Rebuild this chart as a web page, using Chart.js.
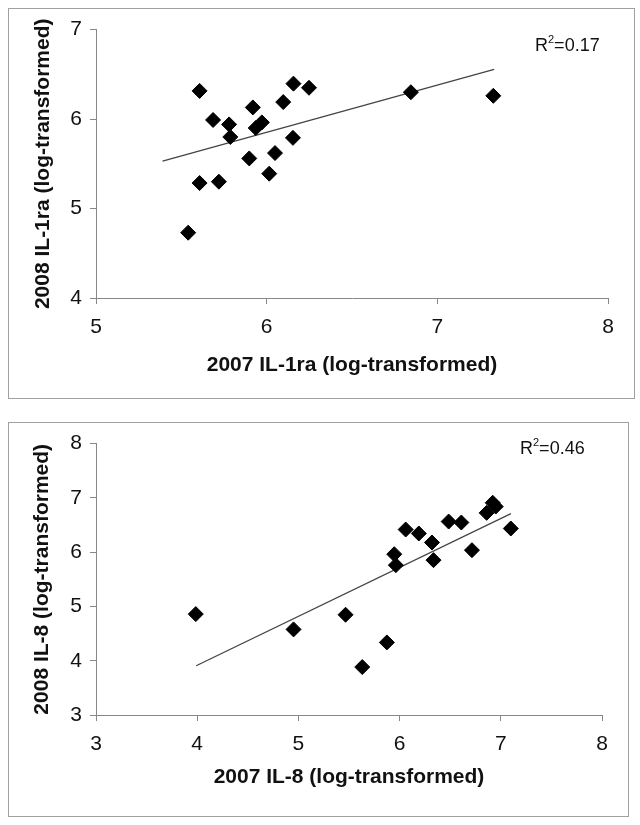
<!DOCTYPE html>
<html><head><meta charset="utf-8">
<script src="https://cdn.jsdelivr.net/npm/chart.js@4.4.0/dist/chart.umd.min.js"></script>
<style>
html,body{margin:0;padding:0;background:#fff;width:640px;height:825px;overflow:hidden}
.box{position:absolute;border:1px solid #a0a0a0;background:#fff}
#b1{left:8px;top:8px;width:625px;height:389px}
#b2{left:8px;top:422px;width:619px;height:393px}
canvas{display:block}
</style></head><body>
<div class="box" id="b1"><canvas id="c1" width="625" height="389"></canvas></div>
<div class="box" id="b2"><canvas id="c2" width="619" height="393"></canvas></div>
<script>
// IL-1ra (2007 vs 2008)
const il1raX = [5.54,5.607,5.607,5.686,5.72,5.78,5.787,5.898,5.919,5.936,5.972,6.015,6.049,6.097,6.154,6.157,6.248,6.845,7.328];
const il1raY = [4.73,5.285,6.315,5.99,5.30,5.94,5.80,5.56,6.13,5.90,5.963,5.39,5.62,6.19,5.79,6.396,6.35,6.30,6.26];
const il1raTrendX = [5.39,7.333];
const il1raTrendY = [5.53,6.556];
const il1raR2 = '0.17';
const il1raTicksX = [5,6,7,8];
const il1raTicksY = [4,5,6,7];
// IL-8 (2007 vs 2008)
const il8X = [3.986,4.952,5.466,5.631,5.874,5.947,5.963,6.06,6.19,6.32,6.335,6.485,6.61,6.715,6.86,6.95,6.92,7.099];
const il8Y = [4.859,4.577,4.847,3.883,4.337,5.963,5.761,6.417,6.344,6.178,5.853,6.564,6.546,6.037,6.724,6.84,6.91,6.436];
const il8TrendX = [3.99,7.10];
const il8TrendY = [3.908,6.71];
const il8R2 = '0.46';
const il8TicksX = [3,4,5,6,7,8];
const il8TicksY = [3,4,5,6,7,8];

const FONT = '"Liberation Sans", Arial, sans-serif';

function r2Plugin(val, x, y){
  return {id:'r2', afterDraw(chart){
    const ctx = chart.ctx; ctx.save();
    ctx.fillStyle = '#111'; ctx.textBaseline = 'alphabetic';
    ctx.font = '18px ' + FONT;
    ctx.fillText('R', x, y);
    let w = ctx.measureText('R').width;
    ctx.font = '11px ' + FONT;
    ctx.fillText('2', x + w, y - 8);
    let w2 = ctx.measureText('2').width;
    ctx.font = '18px ' + FONT;
    ctx.fillText('=' + val, x + w + w2, y);
    ctx.restore();
  }};
}

function makeChart(id, xs, ys, tx, ty, ticksX, ticksY, xTitle, yTitle, cfg){
  const pts = xs.map((v,i)=>({x:v, y:ys[i]}));
  const trend = tx.map((v,i)=>({x:v, y:ty[i]}));
  new Chart(document.getElementById(id), {
    type:'scatter',
    data:{datasets:[
      {type:'line', data:trend, borderColor:'#444', borderWidth:1.3, pointRadius:0, fill:false, order:2},
      {data:pts, pointStyle:'rectRot', pointRadius:7.5, backgroundColor:'#000', borderColor:'#000', borderWidth:1, order:1}
    ]},
    options:{
      responsive:false, animation:false, events:[],
      layout:{padding:{left:0, top:cfg.padTop, right:cfg.padRight, bottom:0}},
      plugins:{legend:{display:false}, tooltip:{enabled:false}},
      scales:{
        x:{type:'linear', min:ticksX[0], max:ticksX[ticksX.length-1],
          afterBuildTicks(s){ s.ticks = ticksX.map(v=>({value:v})); },
          afterFit(s){ s.height = cfg.xh; },
          grid:{display:true, drawOnChartArea:false, drawTicks:true, tickLength:6, color:'#888'},
          border:{color:'#888', width:1},
          ticks:{color:'#111', font:{family:FONT, size:21}, padding:11, maxRotation:0},
          title:{display:true, text:xTitle, color:'#111', font:{family:FONT, size:21, weight:'bold'}, padding:{top:0, bottom:cfg.xtPad}}
        },
        y:{type:'linear', min:ticksY[0], max:ticksY[ticksY.length-1],
          afterBuildTicks(s){ s.ticks = ticksY.map(v=>({value:v})); },
          afterFit(s){ s.width = cfg.yw; },
          grid:{display:true, drawOnChartArea:false, drawTicks:true, tickLength:6, color:'#888'},
          border:{color:'#888', width:1},
          ticks:{color:'#111', font:{family:FONT, size:21}, padding:8},
          title:{display:true, text:yTitle, color:'#111', font:{family:FONT, size:21, weight:'bold'}, padding:{top:cfg.ytPad, bottom:0}}
        }
      }
    },
    plugins:[r2Plugin(cfg.r2, cfg.r2x, cfg.r2y)]
  });
}

makeChart('c1', il1raX, il1raY, il1raTrendX, il1raTrendY, il1raTicksX, il1raTicksY,
  '2007 IL-1ra (log-transformed)', '2008 IL-1ra (log-transformed)',
  {padTop:19, padRight:26, xh:100, yw:87, xtPad:20, ytPad:22, r2:il1raR2, r2x:526, r2y:42});
makeChart('c2', il8X, il8Y, il8TrendX, il8TrendY, il8TicksX, il8TicksY,
  '2007 IL-8 (log-transformed)', '2008 IL-8 (log-transformed)',
  {padTop:20, padRight:26, xh:101, yw:87, xtPad:26, ytPad:21, r2:il8R2, r2x:511, r2y:31});
</script>
</body></html>
